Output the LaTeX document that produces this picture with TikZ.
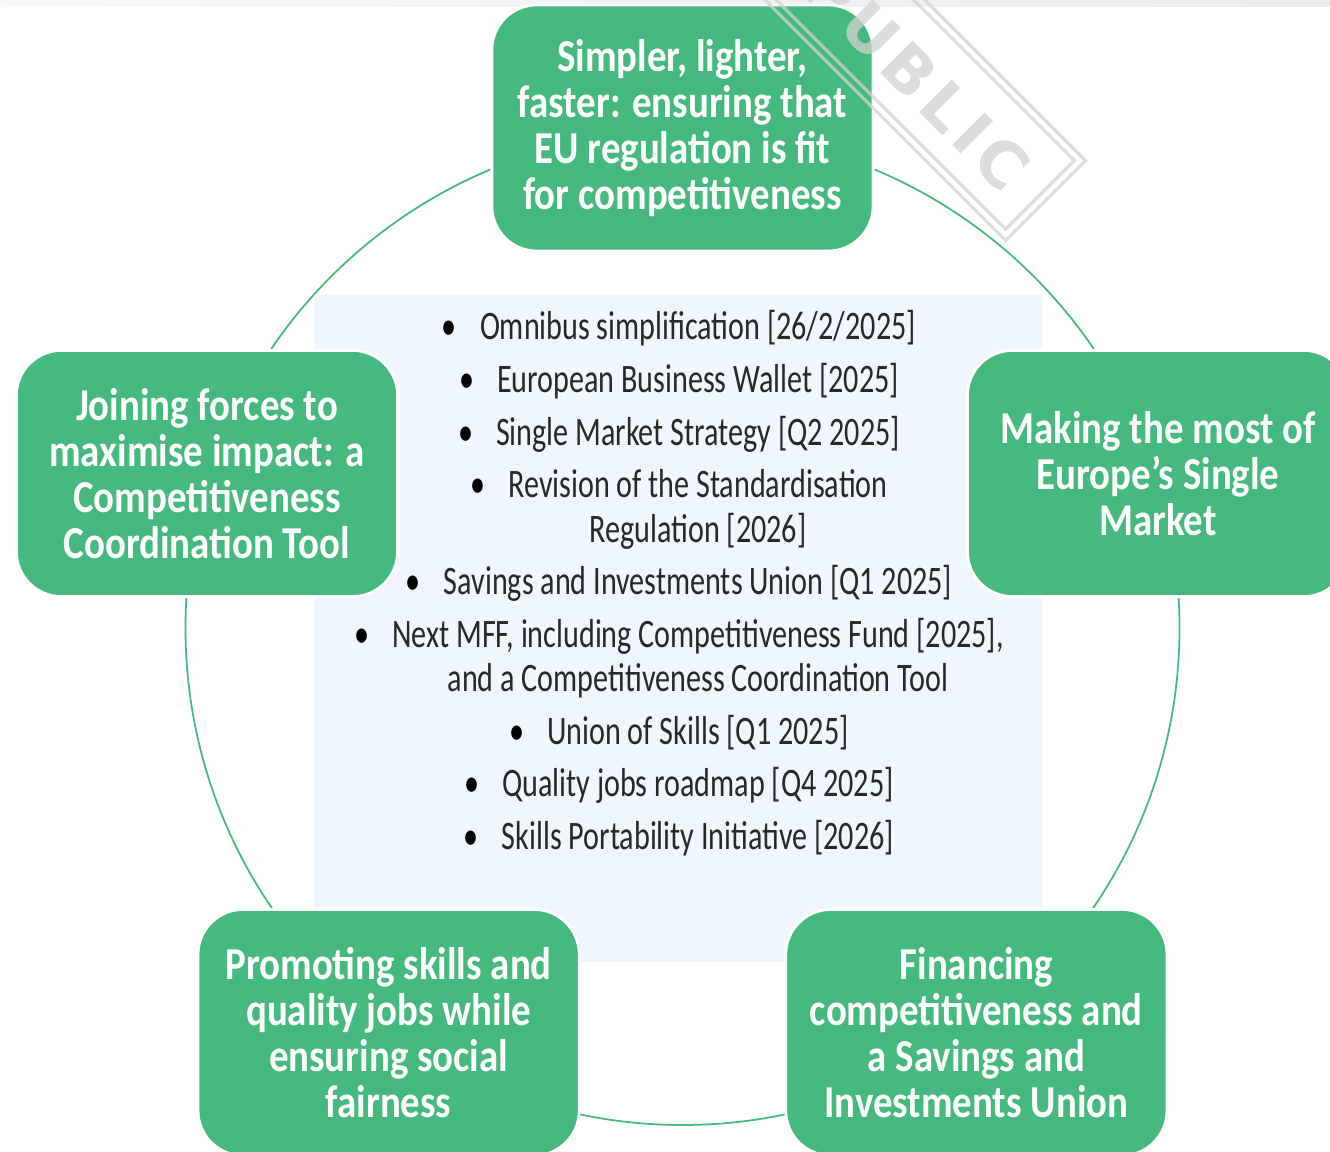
\documentclass[tikz,border=0pt]{standalone}
\usepackage{fontspec}
\setmainfont{Carlito}[FakeStretch=0.85]
\newfontfamily\listfont{Carlito}[FakeStretch=0.745]
\newfontfamily\stampfont{DejaVu Sans}[LetterSpace=10]
\usetikzlibrary{positioning}

\definecolor{eugreen}{RGB}{70,185,126}
\definecolor{listbg}{RGB}{240,246,253}
\definecolor{listtext}{RGB}{40,40,40}
\definecolor{stampgray}{RGB}{210,210,210}
\newcommand{\listbullet}{\llap{\textcolor{black}{\textbullet}\hspace{0.23cm}}}

\begin{document}
\begin{tikzpicture}[x=0.01cm,y=-0.01cm,node distance=0.08cm,
                    topic/.style={rectangle,rounded corners=0.45cm,fill=eugreen,draw=white,
                      line width=0.8pt,minimum width=3.81cm,minimum height=2.46cm,inner sep=0pt,
                      align=center,text=white,font=\fontsize{13}{13.1}\selectfont\bfseries},
                    item/.style={inner sep=0pt,outer sep=0pt,text height=0.33cm,text depth=0.115cm,
                      text=listtext,font=\listfont\fontsize{11.5}{12.7}\selectfont},
                    stampbox/.style={draw=stampgray,line width=0.9pt,rotate=-45,inner sep=0pt}]

  \useasboundingbox (0,0) rectangle (1330,1152);
  \clip (0,0) rectangle (1330,1152);
  \shade[left color=gray!5,right color=gray!16] (0,0) rectangle (1330,7);

  \coordinate (centre) at (682.5,628);
  \draw[eugreen,line width=0.5pt] (centre) circle[radius=497];
  \fill[listbg] (314,295) rectangle (1042,962);

  \node[item,anchor=base] (omnibus) at (698,340) {\listbullet Omnibus simplification [26/2/2025]};
  \node[item,below=of omnibus] (wallet) {\listbullet European Business Wallet [2025]};
  \node[item,below=of wallet] (strategy) {\listbullet Single Market Strategy [Q2 2025]};
  \node[item,below=of strategy] (revision) {\listbullet Revision of the Standardisation};
  \node[item,below=0pt of revision] (regulation) {Regulation [2026]};
  \node[item,below=of regulation] (savings) {\listbullet Savings and Investments Union [Q1 2025]};
  \node[item,below=of savings] (mff) {\listbullet Next MFF, including Competitiveness Fund [2025],};
  \node[item,below=0pt of mff] (cctool) {and a Competitiveness Coordination Tool};
  \node[item,below=of cctool] (unionskills) {\listbullet Union of Skills [Q1 2025]};
  \node[item,below=of unionskills] (qualityjobs) {\listbullet Quality jobs roadmap [Q4 2025]};
  \node[item,below=of qualityjobs] (portability) {\listbullet Skills Portability Initiative [2026]};

  \node[topic] (simpler) at ([shift={(-90:500)}]centre)
    {Simpler, lighter,\\faster: ensuring that\\EU regulation is fit\\for competitiveness};
  \node[topic] (singlemarket) at ([shift={(-18:500)}]centre)
    {Making the most of\\Europe’s Single\\Market};
  \node[topic] (financing) at ([shift={(54:500)}]centre)
    {Financing\\competitiveness and\\a Savings and\\Investments Union};
  \node[topic] (skills) at ([shift={(126:500)}]centre)
    {Promoting skills and\\quality jobs while\\ensuring social\\fairness};
  \node[topic] (joining) at ([shift={(-162:500)}]centre)
    {Joining forces to\\maximise impact: a\\Competitiveness\\Coordination Tool};

  \begin{scope}[opacity=0.75]
    \node[stampbox,minimum width=4.2cm,minimum height=1.13cm] (stampouter) at (897,52) {};
    \node[stampbox,minimum width=4.04cm,minimum height=0.97cm] (stampinner) at (stampouter.center) {};
    \node[rotate=-45,text=stampgray,font=\stampfont\bfseries\fontsize{18}{18}\selectfont]
      (stamptext) at (917,77) {PUBLIC};
  \end{scope}
\end{tikzpicture}
\end{document}
